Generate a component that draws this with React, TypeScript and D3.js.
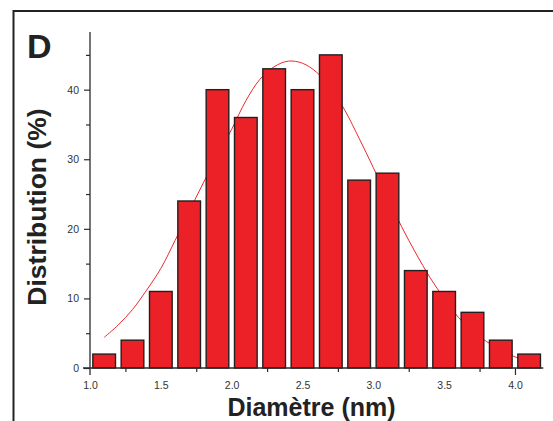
import React, { useEffect, useRef } from "react";
import * as d3 from "d3";

// Histogram bins (centre diameter, nm) and distribution (%)
const binCenters = [1.1, 1.3, 1.5, 1.7, 1.9, 2.1, 2.3, 2.5, 2.7, 2.9, 3.1, 3.3, 3.5, 3.7, 3.9, 4.1];
const binValues = [2, 4, 11, 24, 40, 36, 43, 40, 45, 27, 28, 14, 11, 8, 4, 2];

// Fitted curve
const fitX = [1.1, 1.2, 1.3, 1.4, 1.5, 1.6, 1.7, 1.8, 1.9, 2.0, 2.1, 2.2, 2.3, 2.4, 2.5, 2.6, 2.7, 2.8, 2.9, 3.0, 3.1, 3.2, 3.3, 3.4, 3.5, 3.6, 3.7, 3.8, 3.9, 4.0, 4.1];
const fitY = [4.4, 6.2, 8.4, 11.2, 14.3, 18.3, 22.5, 26.6, 30.5, 34.3, 38.4, 41.5, 43.3, 44.1, 43.8, 42.5, 40.2, 37.0, 33.0, 28.8, 24.5, 20.3, 16.5, 13.0, 10.0, 7.3, 5.3, 3.8, 2.6, 1.6, 1.0];

const xMajorTicks = [1.0, 1.5, 2.0, 2.5, 3.0, 3.5, 4.0];
const xMinorTicks = [1.25, 1.75, 2.25, 2.75, 3.25, 3.75];
const yMajorTicks = [0, 10, 20, 30, 40];
const yMinorTicks = [5, 15, 25, 35, 45];

const panelLabel = "D";
const xTitle = "Diamètre (nm)";
const yTitle = "Distribution (%)";

export default function App() {
  const ref = useRef<SVGSVGElement | null>(null);

  useEffect(() => {
    const svg = d3.select(ref.current);
    svg.selectAll("*").remove();

    const W = 553, H = 421;
    const x = d3.scaleLinear().domain([1.0, 4.2]).range([90, 543.3]);
    const y = d3.scaleLinear().domain([0, 48]).range([368, 34]);
    const font = "'Liberation Sans', Arial, Helvetica, sans-serif";
    const axisColor = "#2b2b2b";

    svg.append("rect").attr("width", W).attr("height", H).attr("fill", "#fff");

    // outer frame
    svg.append("path").attr("d", `M13.5,${H} L13.5,11 L${W},11`).attr("fill", "none").attr("stroke", "#222").attr("stroke-width", 2);

    // fit curve (behind bars)
    const line = d3.line<number>().x((d, i) => x(fitX[i])).y((d) => y(d)).curve(d3.curveCatmullRom);
    svg.append("path").attr("d", line(fitY) || "").attr("fill", "none").attr("stroke", "#f0282c").attr("stroke-width", 1);

    // bars
    const bw = 0.16;
    svg.append("g").selectAll("rect").data(binValues).join("rect")
      .attr("x", (d, i) => x(binCenters[i] - bw / 2))
      .attr("width", x(1 + bw) - x(1))
      .attr("y", (d) => y(d))
      .attr("height", (d) => y(0) - y(d))
      .attr("fill", "#ec2127")
      .attr("stroke", "#231f20")
      .attr("stroke-width", 1.4);

    // y axis
    const gy = svg.append("g").attr("transform", "translate(90,0)");
    gy.call(d3.axisLeft(y).tickValues(yMajorTicks).tickSize(6).tickPadding(5).tickFormat(d3.format("d")) as any);
    gy.select(".domain").remove();
    gy.selectAll("line").attr("stroke", axisColor).attr("stroke-width", 1.2);
    gy.selectAll("text").attr("font-family", font).attr("font-size", 10.5).attr("fill", "#333");
    const gyMinor = svg.append("g").attr("transform", "translate(90,0)");
    gyMinor.call(d3.axisLeft(y).tickValues(yMinorTicks).tickSize(4).tickFormat(() => "") as any);
    gyMinor.select(".domain").remove();
    gyMinor.selectAll("line").attr("stroke", axisColor).attr("stroke-width", 1.2);

    // x axis
    const gx = svg.append("g").attr("transform", "translate(0,368)");
    gx.call(d3.axisBottom(x).tickValues(xMajorTicks).tickSize(0).tickPadding(14).tickFormat(d3.format(".1f")) as any);
    gx.select(".domain").remove();
    gx.selectAll("text").attr("font-family", font).attr("font-size", 10.5).attr("fill", "#333");
    const gxMinor = svg.append("g").attr("transform", "translate(0,368)");
    gxMinor.call(d3.axisBottom(x).tickValues(xMinorTicks).tickSize(4).tickFormat(() => "") as any);
    gxMinor.select(".domain").remove();
    gxMinor.selectAll("line").attr("stroke", axisColor).attr("stroke-width", 1.2);
    const gxEnd = svg.append("g").attr("transform", "translate(0,368)");
    gxEnd.call(d3.axisBottom(x).tickValues([4.0]).tickSize(7).tickFormat(() => "") as any);
    gxEnd.select(".domain").remove();
    gxEnd.selectAll("line").attr("stroke", axisColor).attr("stroke-width", 1.2);

    // axis lines
    svg.append("line").attr("x1", 90).attr("x2", 90).attr("y1", 32).attr("y2", 375).attr("stroke", axisColor).attr("stroke-width", 1.3);
    svg.append("line").attr("x1", 83).attr("x2", x(4.2)).attr("y1", 368).attr("y2", 368).attr("stroke", axisColor).attr("stroke-width", 1.3);

    // titles
    svg.append("text").text(panelLabel).attr("x", 27).attr("y", 58).attr("font-family", font).attr("font-weight", "bold").attr("font-size", 34).attr("fill", "#222");
    svg.append("text").text(xTitle).attr("x", 311.5).attr("y", 415.5).attr("text-anchor", "middle").attr("font-family", font).attr("font-weight", "bold").attr("font-size", 25).attr("fill", "#222");
    svg.append("text").text(yTitle).attr("transform", "translate(46,207) rotate(-90)").attr("text-anchor", "middle").attr("font-family", font).attr("font-weight", "bold").attr("font-size", 26.5).attr("fill", "#222");
  }, []);

  return (
    <svg ref={ref} width={553} height={421} style={{ position: "fixed", left: 0, top: 0, display: "block" }} />
  );
}
